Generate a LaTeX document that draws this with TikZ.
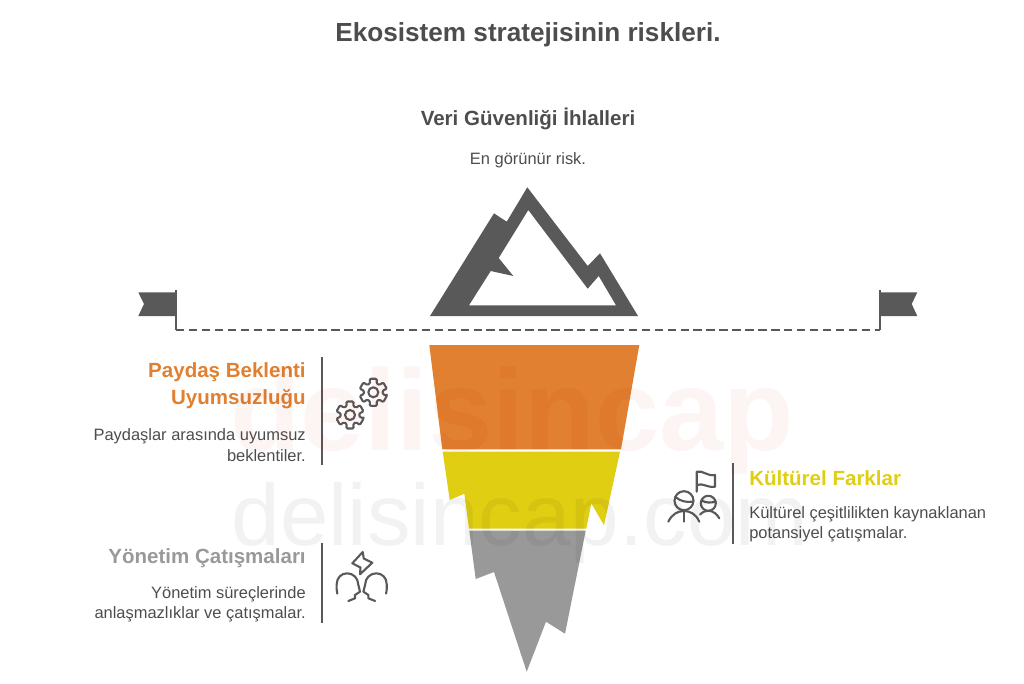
\documentclass[tikz,border=0pt]{standalone}
\usepackage{fontspec}
\setmainfont{Liberation Sans}
\definecolor{darkgrey}{HTML}{595959}
\definecolor{textgrey}{HTML}{4D4D4D}
\definecolor{iceorange}{HTML}{E08030}
\definecolor{iceyellow}{HTML}{E0CE12}
\definecolor{icegrey}{HTML}{999999}
\tikzset{
	headline/.style={font=\fontsize{14.6}{19.2}\selectfont\bfseries, inner sep=0pt},
	desc/.style={font=\fontsize{11.7}{14.4}\selectfont, color=textgrey, inner sep=0pt},
	iconline/.style={draw=darkgrey, line width=1.5pt, line join=round, line cap=round, fill=none},
	divider/.style={draw=darkgrey, line width=1.4pt},
	gearicon/.pic={
		\draw[iconline, rounded corners=0.8pt] (15:14)
			\foreach \a in {30,90,...,330} {
				-- (\a-15:14) -- (\a+15:14) -- (\a+20:9.5) -- (\a+40:9.5)
			} -- cycle;
		\draw[iconline] (0,0) circle (5);
	},
	headicon/.pic={
		\draw[iconline] (-24.4,20.3) .. controls (-25.5,17) and (-25,14) .. (-25,11)
			.. controls (-25,4.5) and (-20.5,0) .. (-14.5,0)
			.. controls (-8.5,0) and (-3.5,5) .. (-3.5,11)
			-- (-1.7,18.4) -- (-6.7,21.7) -- (-6.7,25) -- (-13.4,27.7);
	}
}
\begin{document}
\begin{tikzpicture}[x=0.025cm, y=-0.025cm]
	\useasboundingbox (0,0) rectangle (1024,683);

	% iceberg
	\fill[iceorange] (429.3,345) -- (639.3,345) -- (621,449.3) -- (442.3,449.3) -- cycle;
	\fill[iceyellow] (442.7,451.7) -- (620,451.7) -- (604,525.3) -- (591.3,503.3) -- (586.3,528.7)
		-- (469,528.7) -- (464.3,493.7) -- (449.7,500) -- cycle;
	\fill[icegrey] (469.3,530.7) -- (585.7,530.7) -- (565,633.7) -- (546,621.7) -- (526.7,671.7)
		-- (494,572) -- (475.7,579) -- cycle;

	% mountain
	\fill[darkgrey, even odd rule] (430,316) -- (494,213.3) -- (506.7,221.7) -- (527.3,187.3)
		-- (587.7,266) -- (600,253.3) -- (638,316) -- cycle
		(528.3,210) -- (587.7,288.7) -- (598.7,276) -- (616,305.3) -- (469,305.3)
		-- (490.7,271) -- (513.3,276) -- (498.7,258) -- cycle;

	% waterline and flags
	\coordinate (flagL) at (176,330);
	\coordinate (flagR) at (880,330);
	\draw[darkgrey, line width=1.5pt, dash pattern=on 6pt off 3.2pt] (flagL) -- (flagR);
	\draw[darkgrey, line width=1.5pt] (176,290) -- (flagL);
	\draw[darkgrey, line width=1.5pt] (880,290) -- (flagR);
	\fill[darkgrey] (176,292.3) -- (138.3,292.3) -- (144,304) -- (138.3,316) -- (176,316) -- cycle;
	\fill[darkgrey] (880,292.3) -- (917.3,292.3) -- (911.7,304) -- (917.3,316) -- (880,316) -- cycle;

	% dividers
	\draw[divider] (322,357) -- (322,465);
	\draw[divider] (322,543) -- (322,623);
	\draw[divider] (733,463) -- (733,544);

	% texts
	\node[font=\fontsize{18.6}{22}\selectfont\bfseries, color=textgrey, inner sep=0pt] (title) at (528,34.5) {Ekosistem stratejisinin riskleri.};
	\node[headline, color=textgrey] (topHead) at (528,119) {Veri Güvenliği İhlalleri};
	\node[desc] (topDesc) at (528,160) {En görünür risk.};

	\node[headline, color=iceorange, anchor=east, align=right] (stakeHead) at (306,385.5) {Paydaş Beklenti\\Uyumsuzluğu};
	\node[desc, anchor=east, align=right] (stakeDesc) at (306,445) {Paydaşlar arasında uyumsuz\\beklentiler.};

	\node[headline, color=icegrey, anchor=east] (mgmtHead) at (306,558) {Yönetim Çatışmaları};
	\node[desc, anchor=east, align=right] (mgmtDesc) at (306,604) {Yönetim süreçlerinde\\anlaşmazlıklar ve çatışmalar.};

	\node[headline, color=iceyellow, anchor=west] (cultHead) at (749,478) {Kültürel Farklar};
	\node[desc, anchor=west, align=left] (cultDesc) at (749,524.5) {Kültürel çeşitlilikten kaynaklanan\\potansiyel çatışmalar.};

	% gears
	\pic at (373.3,392.3) {gearicon};
	\pic at (350,415) {gearicon};

	% heads and bolt
	\pic at (361.7,573.3) {headicon};
	\pic[xscale=-1] at (361.7,573.3) {headicon};
	\draw[iconline] (362.7,552) -- (352.3,563.3) -- (360.5,567.5) -- (360,574.3) -- (372.3,562.7) -- (363.8,558.5) -- cycle;

	% people and flag
	\draw[iconline] (684,500.7) circle (9.5);
	\draw[iconline] (676,497.3) .. controls (680,501) and (686,502.5) .. (692.5,501.7);
	\draw[iconline] (684,510.2) -- (684,521.7);
	\draw[iconline] (668.3,521.7) .. controls (672,514) and (678,511) .. (684,511) .. controls (690,511) and (696,514) .. (699.3,521.7);
	\draw[iconline] (708.3,503.3) circle (7.5);
	\draw[iconline] (701.5,500.5) .. controls (706,503) and (711,503) .. (715.5,501.5);
	\draw[iconline] (700,514.5) .. controls (703,511.5) and (706,510.8) .. (708.3,510.8) .. controls (713,510.8) and (717,514) .. (719.3,518.3);
	\draw[iconline] (696.7,491.7) -- (696.7,471.7) .. controls (703,470) and (707,476.5) .. (715,475)
		-- (715,486.7) .. controls (707,488) and (703,482.5) .. (696.7,485);

	% watermark
	\node[font=\fontsize{82}{84}\selectfont\bfseries, color=red!80!black, opacity=0.045, inner sep=0pt, anchor=base] (markTop) at (512,450) {delisincap};
	\node[font=\fontsize{62}{64}\selectfont, color=black, opacity=0.05, inner sep=0pt, anchor=base] (markBottom) at (520,545) {delisincap.com};
\end{tikzpicture}
\end{document}
